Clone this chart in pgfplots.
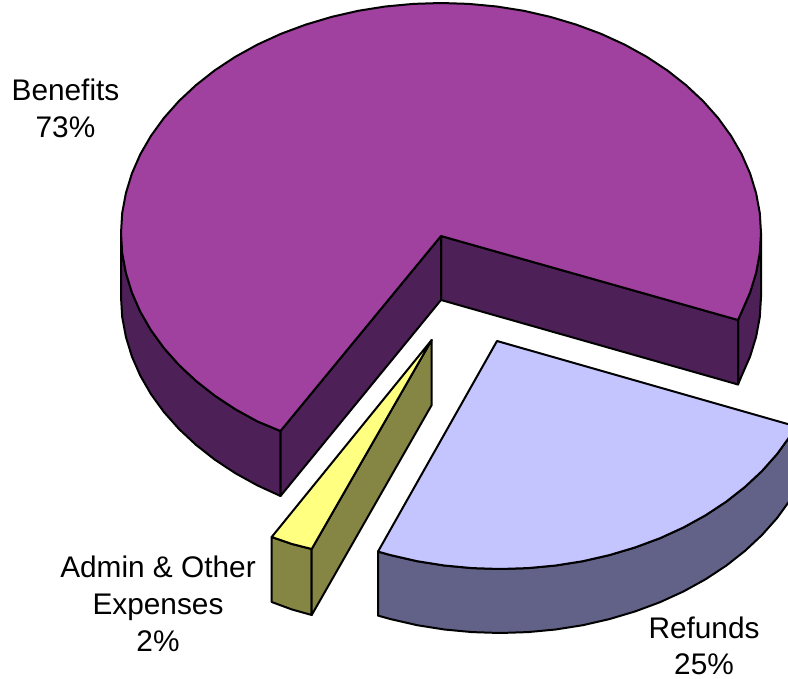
\documentclass[border=0pt]{standalone}
\usepackage{fontspec}
\setmainfont{Liberation Sans}
\usepackage{pgfplots}
\pgfplotsset{compat=1.18}
\definecolor{cPurple}{HTML}{A0409F}
\definecolor{cPurpleD}{HTML}{4E2058}
\definecolor{cLav}{HTML}{C4C4FF}
\definecolor{cSlate}{HTML}{626288}
\definecolor{cOlive}{HTML}{868644}
\definecolor{cYellow}{HTML}{FFFF80}
\tikzset{lbl/.style={font=\fontsize{29.8}{36.7}\selectfont, align=center, anchor=base, inner sep=0pt}}
\begin{document}
\begin{tikzpicture}
\path[use as bounding box] (0,0) rectangle (788pt,679pt);
\begin{axis}[
  at={(0,0)}, anchor=south west,
  scale only axis, width=788pt, height=679pt,
  xmin=0, xmax=788, ymin=0, ymax=679, y dir=reverse,
  hide axis, clip=true,
  every axis plot/.append style={draw=black, line width=2pt, line join=round, no markers},
]
% Benefits: left outer wall
\addplot[fill=cPurpleD] coordinates {(121,233)(122.2,253)(125.9,272.9)(131.9,292.5)(140.3,311.7)(151,330.2)(163.9,348)(178.9,364.9)(195.9,380.8)(214.7,395.6)(235.3,409.2)(257.4,421.4)(280.5,431)(280.5,496)(257.4,485.4)(235.3,473.2)(214.7,459.6)(195.9,444.8)(178.9,428.9)(163.9,412)(151,394.2)(140.3,375.7)(131.9,356.5)(125.9,336.9)(122.2,317)(121,297)} -- cycle;
% Benefits: right outer wall
\addplot[fill=cPurpleD] coordinates {(761,233)(759.8,253)(756.1,272.9)(750.1,292.5)(741.7,311.7)(738,320)(738,384.5)(741.7,375.7)(750.1,356.5)(756.1,336.9)(759.8,317)(761,297)} -- cycle;
% Benefits: inner walls
\addplot[fill=cPurpleD] coordinates {(441,236)(738,320)(738,384.5)(441,300)} -- cycle;
\addplot[fill=cPurpleD] coordinates {(441,236)(280.5,431)(280.5,496)(441,300)} -- cycle;
% Benefits: top
\addplot[fill=cPurple] coordinates {(441,236)(738,320)(741.7,311.7)(750.1,292.5)(756.1,272.9)(759.8,253)(761,233)(759.8,213)(756.1,193.1)(750.1,173.5)(741.7,154.3)(731,135.8)(718.1,118)(703.1,101.1)(686.1,85.2)(667.3,70.4)(646.7,56.8)(624.6,44.6)(601,33.8)(576.2,24.6)(550.4,16.9)(523.8,10.8)(496.6,6.5)(468.9,3.9)(441,3)(413.1,3.9)(385.4,6.5)(358.2,10.8)(331.6,16.9)(305.8,24.6)(281,33.8)(257.4,44.6)(235.3,56.8)(214.7,70.4)(195.9,85.2)(178.9,101.1)(163.9,118)(151,135.8)(140.3,154.3)(131.9,173.5)(125.9,193.1)(122.2,213)(121,233)(122.2,253)(125.9,272.9)(131.9,292.5)(140.3,311.7)(151,330.2)(163.9,348)(178.9,364.9)(195.9,380.8)(214.7,395.6)(235.3,409.2)(257.4,421.4)(280.5,431)} -- cycle;
% Admin
\addplot[fill=cOlive] coordinates {(271.7,537)(292,544)(311.7,549)(311.7,615)(292,609.5)(271.7,602)} -- cycle;
\addplot[fill=cOlive] coordinates {(431.7,340)(311.7,549)(311.7,615)(431.7,405)} -- cycle;
\addplot[fill=cYellow] coordinates {(431.7,340)(271.7,537)(292,544)(311.7,549)} -- cycle;
% Refunds
\addplot[fill=cSlate] coordinates {(378,551.6)(390.6,555.1)(417.2,561.2)(444.4,565.5)(472.1,568.1)(500,569)(527.9,568.1)(555.6,565.5)(582.8,561.2)(609.4,555.1)(635.2,547.4)(660,538.2)(683.6,527.4)(705.7,515.2)(726.3,501.6)(745.1,486.8)(762.1,470.9)(777.1,454)(790,436.2)(796,426.4)(796,490.4)(790,500.2)(777.1,518)(762.1,534.9)(745.1,550.8)(726.3,565.6)(705.7,579.2)(683.6,591.4)(660,602.2)(635.2,611.4)(609.4,619.1)(582.8,625.2)(555.6,629.5)(527.9,632.1)(500,633)(472.1,632.1)(444.4,629.5)(417.2,625.2)(390.6,619.1)(378,615.6)} -- cycle;
\addplot[fill=cLav] coordinates {(497,341)(796,426.4)(790,436.2)(777.1,454)(762.1,470.9)(745.1,486.8)(726.3,501.6)(705.7,515.2)(683.6,527.4)(660,538.2)(635.2,547.4)(609.4,555.1)(582.8,561.2)(555.6,565.5)(527.9,568.1)(500,569)(472.1,568.1)(444.4,565.5)(417.2,561.2)(390.6,555.1)(378,551.6)} -- cycle;
% Labels
\node[lbl] at (axis cs:65.5,101) {Benefits};
\node[lbl] at (axis cs:65.5,138) {73\%};
\node[lbl] at (axis cs:158,577.5) {Admin \& Other};
\node[lbl] at (axis cs:158,614) {Expenses};
\node[lbl] at (axis cs:158,651) {2\%};
\node[lbl] at (axis cs:704,638) {Refunds};
\node[lbl] at (axis cs:704,674) {25\%};
\end{axis}
\end{tikzpicture}
\end{document}
